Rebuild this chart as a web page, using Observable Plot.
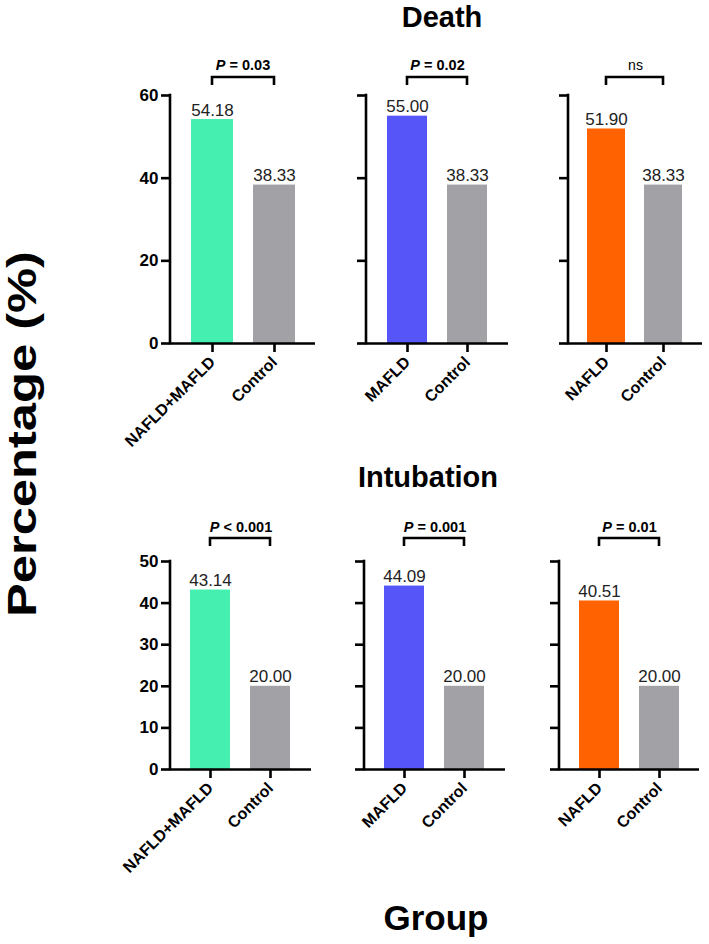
<!DOCTYPE html>
<html><head><meta charset="utf-8">
<script src="https://cdn.jsdelivr.net/npm/d3@7"></script>
<script src="https://cdn.jsdelivr.net/npm/@observablehq/plot@0.6"></script>
<style>
body{margin:0;background:#fff;font-family:"Liberation Sans",Arial,sans-serif}
#root{position:relative;width:709px;height:944px;overflow:hidden;background:#fff}
#root > svg{position:absolute}
</style></head><body><div id="root"></div>
<script>
// ---- data ----
const outcomes = ["Death", "Intubation"];
const exposureGroups = ["NAFLD+MAFLD", "MAFLD", "NAFLD"];
const controlLabel = "Control";
const deathExposure = [54.18, 55.00, 51.90];
const deathControl = [38.33, 38.33, 38.33];
const intubationExposure = [43.14, 44.09, 40.51];
const intubationControl = [20.00, 20.00, 20.00];
const deathP = ["P = 0.03", "P = 0.02", "ns"];
const intubationP = ["P < 0.001", "P = 0.001", "P = 0.01"];
const deathTicks = [0, 20, 40, 60];
const intubationTicks = [0, 10, 20, 30, 40, 50];
const groupColors = ["#44EFAF", "#5656F8", "#FF6200"];
const controlColor = "#A2A1A6";
const yAxisTitle = "Percentage (%)";
const xAxisTitle = "Group";

// ---- layout ----
const rows = [
  {title: outcomes[0], exp: deathExposure, ctl: deathControl, p: deathP, ticks: deathTicks,
   frameTop: 95, frameH: 248, axisX: [170, 366, 568], frameW: [145, 142, 134], bracket: 18, pOff: 30,
   titleX: 442, titleY: 27},
  {title: outcomes[1], exp: intubationExposure, ctl: intubationControl, p: intubationP, ticks: intubationTicks,
   frameTop: 561, frameH: 208, axisX: [170, 364, 559], frameW: [141, 141, 140], bracket: 23, pOff: 34,
   titleX: 428, titleY: 487}
];
const mL = 60, mR = 4, mT = 45, mB = 110;
const FONT = "'Liberation Sans', Arial, Helvetica, sans-serif";
const root = document.getElementById("root");
const NS = "http://www.w3.org/2000/svg";

// Title overlay
const over = d3.select(root).append("svg").attr("width", 709).attr("height", 944)
  .style("left", "0px").style("top", "0px").style("font-family", FONT);
rows.forEach(r => {
  over.append("text").attr("x", r.titleX).attr("y", r.titleY).attr("text-anchor", "middle")
    .attr("font-size", 29).attr("font-weight", "bold").text(r.title);
});
over.append("text").attr("transform", "translate(36,434) rotate(-90)").attr("text-anchor", "middle")
  .attr("font-size", 41).attr("font-weight", "bold")
  .attr("textLength", 366).attr("lengthAdjust", "spacingAndGlyphs").text(yAxisTitle);
over.append("text").attr("x", 436).attr("y", 930).attr("text-anchor", "middle")
  .attr("font-size", 35).attr("font-weight", "bold").text(xAxisTitle);

rows.forEach(r => {
  exposureGroups.forEach((g, i) => {
    const data = [
      {group: g, value: r.exp[i], color: groupColors[i]},
      {group: controlLabel, value: r.ctl[i], color: controlColor}
    ];
    const ymax = r.ticks[r.ticks.length - 1];
    const W = r.frameW[i];
    const pText = r.p[i];
    const yLine = (index, scales, values, dims) => {
      const l = document.createElementNS(NS, "line");
      l.setAttribute("x1", dims.marginLeft); l.setAttribute("x2", dims.marginLeft);
      l.setAttribute("y1", scales.y(ymax)); l.setAttribute("y2", scales.y(0));
      l.setAttribute("stroke", "#000"); l.setAttribute("stroke-width", 2.6);
      l.setAttribute("stroke-linecap", "square");
      return l;
    };
    const bracket = (index, scales, values, dims) => {
      const bw = scales.x.bandwidth ? scales.x.bandwidth() / 2 : 0;
      const x1 = scales.x(g) + bw, x2 = scales.x(controlLabel) + bw;
      const yb = scales.y(ymax) - r.bracket;
      const p = document.createElementNS(NS, "path");
      p.setAttribute("d", `M${x1},${yb + 8}V${yb}H${x2}V${yb + 8}`);
      p.setAttribute("fill", "none"); p.setAttribute("stroke", "#000");
      p.setAttribute("stroke-width", 2.6);
      return p;
    };
    const chart = Plot.plot({
      width: mL + W + mR, height: mT + r.frameH + mB,
      marginLeft: mL, marginRight: mR, marginTop: mT, marginBottom: mB,
      style: {background: "transparent", overflow: "visible", fontFamily: FONT, color: "#000"},
      x: {domain: [g, controlLabel], paddingInner: 0.33, paddingOuter: 0.33, label: null},
      y: {domain: [0, ymax], label: null},
      color: {type: "identity"},
      marks: [
        Plot.barY(data, {x: "group", y: "value", fill: "color"}),
        Plot.text(data, {x: "group", y: "value", text: d => d.value.toFixed(2), dy: -4,
          lineAnchor: "bottom", fontSize: 17, fill: "#222"}),
        Plot.axisY({ticks: r.ticks, tickSize: 9, tickPadding: 3, strokeWidth: 2.6, fontSize: 17,
          fontWeight: "bold", label: null, tickFormat: i === 0 ? d => d : () => ""}),
        Plot.axisX({tickSize: 9, tickPadding: 7, tickRotate: -45, strokeWidth: 2.6, fontSize: 16,
          fontWeight: "bold", label: null}),
        Plot.ruleY([0], {strokeWidth: 2.6, stroke: "#000"}),
        yLine,
        bracket,
        Plot.text([pText], {frameAnchor: "top", dy: -r.pOff, lineAnchor: "middle", text: d => d,
          fontSize: pText === "ns" ? 14 : 14.5,
          fontWeight: pText === "ns" ? "normal" : "bold", fill: "#000"})
      ]
    });
    chart.style.position = "absolute";
    chart.style.left = (r.axisX[i] - mL) + "px";
    chart.style.top = (r.frameTop - mT) + "px";
    root.appendChild(chart);
    // italic P
    chart.querySelectorAll("text").forEach(t => {
      if (t.textContent === pText && pText.startsWith("P ")) {
        t.textContent = "";
        const a = document.createElementNS(NS, "tspan");
        a.setAttribute("font-style", "italic"); a.textContent = "P";
        t.appendChild(a);
        t.appendChild(document.createTextNode(pText.slice(1)));
      }
    });
  });
});
</script></body></html>
